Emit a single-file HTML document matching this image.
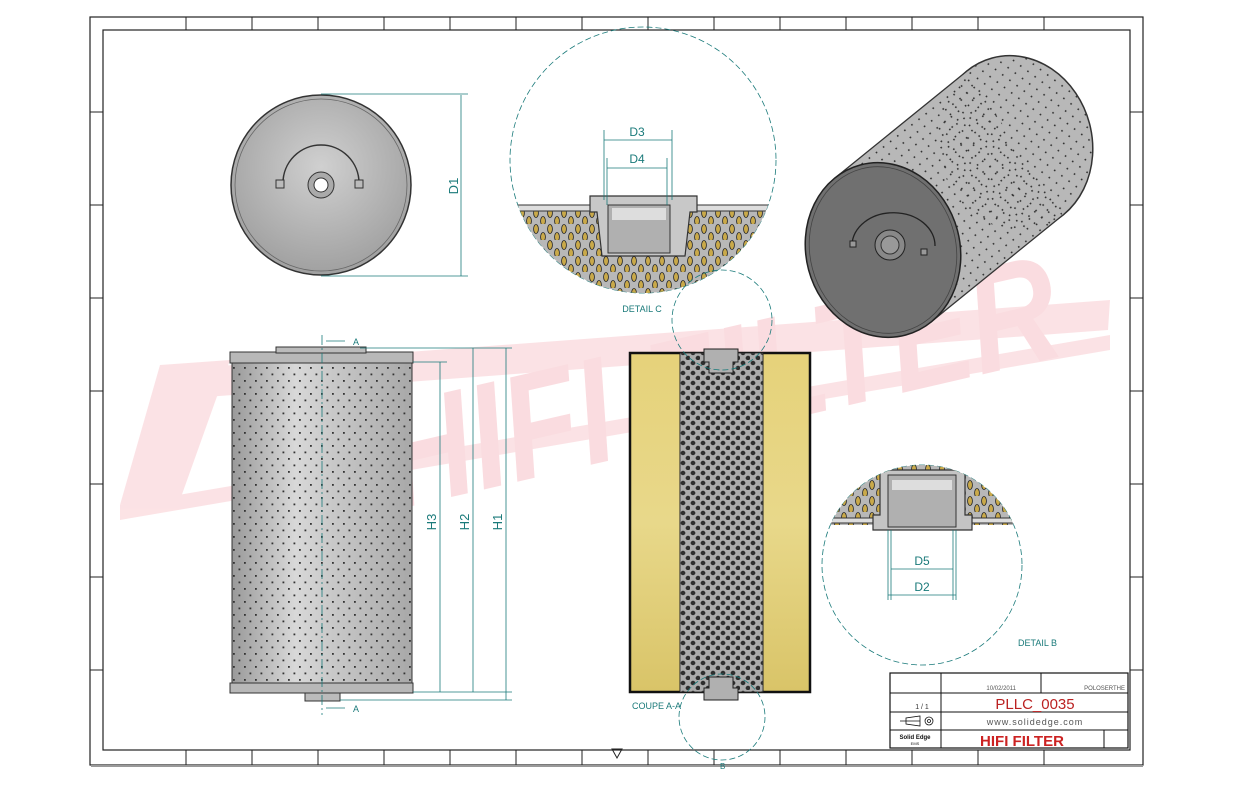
<!DOCTYPE html>
<html><head><meta charset="utf-8"><style>
html,body{margin:0;padding:0;background:#fff;}
svg{display:block;font-family:"Liberation Sans",sans-serif;}
</style></head><body>
<svg width="1233" height="785" viewBox="0 0 1233 785" xmlns="http://www.w3.org/2000/svg">
<defs>
<pattern id="dots" width="11" height="13" patternUnits="userSpaceOnUse">
<rect x="2" y="3" width="1.8" height="1.8" fill="#333"/><rect x="7.5" y="9.5" width="1.8" height="1.8" fill="#333"/>
</pattern>
<pattern id="dots2" width="9" height="9" patternUnits="userSpaceOnUse" patternTransform="rotate(-38)">
<rect x="2" y="2" width="1.6" height="1.6" fill="#333"/>
</pattern>
<pattern id="perf" width="10" height="10" patternUnits="userSpaceOnUse">
<rect width="10" height="10" fill="#a0a0a0"/>
<ellipse cx="3" cy="3" rx="2.4" ry="2.2" fill="#111"/><ellipse cx="8" cy="8" rx="2.4" ry="2.2" fill="#111"/>
</pattern>
<pattern id="hatch" width="14" height="16" patternUnits="userSpaceOnUse">
<rect width="14" height="16" fill="#b8b8b8"/>
<ellipse cx="4" cy="5" rx="2.4" ry="4.5" fill="#c9a94a" stroke="#222" stroke-width="0.8"/>
<ellipse cx="11" cy="13" rx="2.4" ry="4.5" fill="#c9a94a" stroke="#222" stroke-width="0.8"/>
</pattern>
<linearGradient id="gcyl" x1="0" x2="1"><stop offset="0" stop-color="#9a9a9a"/><stop offset=".35" stop-color="#d8d8d8"/><stop offset="1" stop-color="#a8a8a8"/></linearGradient>
<linearGradient id="gyel" x1="0" y1="0" x2="0" y2="1"><stop offset="0" stop-color="#e6d27a"/><stop offset=".5" stop-color="#e8d88a"/><stop offset="1" stop-color="#d9c468"/></linearGradient>
<radialGradient id="gdisk" cx=".5" cy=".4" r=".6"><stop offset="0" stop-color="#d0d0d0"/><stop offset="1" stop-color="#a0a0a0"/></radialGradient>
<clipPath id="cC"><circle cx="643" cy="160" r="133"/></clipPath>
<clipPath id="cB"><circle cx="922" cy="565" r="100"/></clipPath>
</defs>

<!-- borders -->
<rect x="90" y="17" width="1053" height="748" fill="none" stroke="#222" stroke-width="1.2"/>
<rect x="103" y="30" width="1027" height="720" fill="none" stroke="#222" stroke-width="1.2"/>
<g stroke="#222" stroke-width="1">
<line x1="186" y1="17" x2="186" y2="30"/><line x1="252" y1="17" x2="252" y2="30"/><line x1="318" y1="17" x2="318" y2="30"/><line x1="384" y1="17" x2="384" y2="30"/><line x1="450" y1="17" x2="450" y2="30"/><line x1="516" y1="17" x2="516" y2="30"/><line x1="582" y1="17" x2="582" y2="30"/><line x1="648" y1="17" x2="648" y2="30"/><line x1="714" y1="17" x2="714" y2="30"/><line x1="780" y1="17" x2="780" y2="30"/><line x1="846" y1="17" x2="846" y2="30"/><line x1="912" y1="17" x2="912" y2="30"/><line x1="978" y1="17" x2="978" y2="30"/><line x1="1044" y1="17" x2="1044" y2="30"/>
<line x1="186" y1="750" x2="186" y2="765"/><line x1="252" y1="750" x2="252" y2="765"/><line x1="318" y1="750" x2="318" y2="765"/><line x1="384" y1="750" x2="384" y2="765"/><line x1="450" y1="750" x2="450" y2="765"/><line x1="516" y1="750" x2="516" y2="765"/><line x1="582" y1="750" x2="582" y2="765"/><line x1="648" y1="750" x2="648" y2="765"/><line x1="714" y1="750" x2="714" y2="765"/><line x1="780" y1="750" x2="780" y2="765"/><line x1="846" y1="750" x2="846" y2="765"/><line x1="912" y1="750" x2="912" y2="765"/><line x1="978" y1="750" x2="978" y2="765"/><line x1="1044" y1="750" x2="1044" y2="765"/>
<line x1="90" y1="112" x2="103" y2="112"/><line x1="90" y1="205" x2="103" y2="205"/><line x1="90" y1="298" x2="103" y2="298"/><line x1="90" y1="391" x2="103" y2="391"/><line x1="90" y1="484" x2="103" y2="484"/><line x1="90" y1="577" x2="103" y2="577"/><line x1="90" y1="670" x2="103" y2="670"/>
<line x1="1130" y1="112" x2="1143" y2="112"/><line x1="1130" y1="205" x2="1143" y2="205"/><line x1="1130" y1="298" x2="1143" y2="298"/><line x1="1130" y1="391" x2="1143" y2="391"/><line x1="1130" y1="484" x2="1143" y2="484"/><line x1="1130" y1="577" x2="1143" y2="577"/><line x1="1130" y1="670" x2="1143" y2="670"/>
</g>
<line x1="91" y1="766" x2="1143" y2="766" stroke="#999" stroke-width="2"/>
<path d="M612 749 L622 749 L617 758 Z" fill="none" stroke="#222"/>

<!-- watermark -->
<g opacity="0.4">
<path d="M165 370 L1110 300 L1108 330 L165 400 Z" fill="#f7b9bf"/>
<path d="M120 505 L1110 335 L1110 350 L120 520 Z" fill="#f7b9bf"/>
<path d="M160 365 L230 360 L180 500 L120 505 Z" fill="#f7b9bf"/>
<text x="395" y="510" transform="rotate(-13 395 510)" font-size="150" font-weight="bold" font-style="italic" fill="#f5aab2" textLength="690" lengthAdjust="spacingAndGlyphs">HIFI FILTER</text>
</g>

<!-- top view disk -->
<circle cx="321" cy="185" r="90" fill="url(#gdisk)" stroke="#333" stroke-width="1.5"/>
<circle cx="321" cy="185" r="86" fill="none" stroke="#666" stroke-width="0.8"/>
<path d="M283 183 A38 38 0 0 1 359 183" fill="none" stroke="#333" stroke-width="1.5"/>
<rect x="276" y="180" width="8" height="8" fill="#bbb" stroke="#333"/><rect x="355" y="180" width="8" height="8" fill="#bbb" stroke="#333"/>
<circle cx="321" cy="185" r="13" fill="#aaa" stroke="#333"/><circle cx="321" cy="185" r="7" fill="#fff" stroke="#333"/>
<g stroke="#1a7a7a" stroke-width="0.8" fill="#1a7a7a">
<line x1="321" y1="94" x2="468" y2="94"/><line x1="321" y1="276" x2="468" y2="276"/>
<line x1="461" y1="95" x2="461" y2="276"/>
</g>
<text x="458" y="186" transform="rotate(-90 458 186)" font-size="13" fill="#1a7a7a" text-anchor="middle">D1</text>

<!-- detail C -->
<circle cx="643" cy="160" r="133" fill="none" stroke="#1a7a7a" stroke-width="0.8" stroke-dasharray="6,3"/>
<g clip-path="url(#cC)">
<rect x="500" y="210" width="290" height="90" fill="url(#hatch)"/>
<rect x="500" y="205" width="290" height="6" fill="#ddd" stroke="#333"/>
<path d="M590 196 L697 196 L697 212 L690 212 L685 256 L602 256 L597 212 L590 212 Z" fill="#c8c8c8" stroke="#333" stroke-width="1.2"/>
<rect x="608" y="205" width="62" height="48" fill="#b0b0b0" stroke="#333"/>
<rect x="612" y="208" width="54" height="12" fill="#ddd"/>
</g>
<g stroke="#1a7a7a" stroke-width="0.8">
<line x1="604" y1="130" x2="604" y2="200"/><line x1="672" y1="130" x2="672" y2="200"/><line x1="604" y1="140" x2="672" y2="140"/>
<line x1="607" y1="158" x2="607" y2="205"/><line x1="667" y1="158" x2="667" y2="205"/><line x1="607" y1="168" x2="667" y2="168"/>
</g>
<text x="637" y="136" font-size="12" fill="#1a7a7a" text-anchor="middle">D3</text>
<text x="637" y="163" font-size="12" fill="#1a7a7a" text-anchor="middle">D4</text>
<text x="642" y="312" font-size="9" fill="#1a7a7a" text-anchor="middle">DETAIL C</text>

<!-- iso cylinder -->
<ellipse cx="1015" cy="143" rx="77" ry="88" transform="rotate(-15 1015 143)" fill="#b8b8b8" stroke="#333" stroke-width="1.5"/>
<path d="M835 178 L967 71 L1063 215 L931 322 Z" fill="#b8b8b8"/>
<ellipse cx="1015" cy="143" rx="77" ry="88" transform="rotate(-15 1015 143)" fill="url(#dots2)"/>
<path d="M835 178 L967 71 L1063 215 L931 322 Z" fill="url(#dots2)"/>
<line x1="835" y1="178" x2="967" y2="71" stroke="#333" stroke-width="1.3"/>
<line x1="931" y1="322" x2="1063" y2="215" stroke="#333" stroke-width="1.3"/>
<ellipse cx="883" cy="250" rx="77" ry="88" transform="rotate(-15 883 250)" fill="#707070" stroke="#222" stroke-width="1.5"/>
<ellipse cx="883" cy="250" rx="73" ry="84" transform="rotate(-15 883 250)" fill="none" stroke="#444" stroke-width="0.8"/>
<path d="M852 245 A38 30 0 0 1 935 246" fill="none" stroke="#222" stroke-width="1.3"/>
<rect x="850" y="241" width="6" height="6" fill="#999" stroke="#222"/><rect x="921" y="249" width="6" height="6" fill="#999" stroke="#222"/>
<circle cx="890" cy="245" r="15" fill="#888" stroke="#222"/><circle cx="890" cy="245" r="9" fill="#999" stroke="#333"/>

<!-- front view -->
<rect x="232" y="360" width="180" height="326" fill="url(#gcyl)" stroke="#333"/>
<rect x="232" y="360" width="180" height="326" fill="url(#dots)"/>
<rect x="230" y="352" width="183" height="11" fill="#b8b8b8" stroke="#333"/>
<rect x="230" y="683" width="183" height="10" fill="#b8b8b8" stroke="#333"/>
<rect x="276" y="347" width="90" height="6" fill="#bbb" stroke="#333"/>
<rect x="305" y="693" width="35" height="8" fill="#bbb" stroke="#333"/>
<g stroke="#1a7a7a" stroke-width="0.8" fill="none">
<line x1="322" y1="335" x2="322" y2="715" stroke-dasharray="10,3,2,3"/>
<line x1="326" y1="341" x2="345" y2="341"/><line x1="326" y1="708" x2="345" y2="708"/>
<line x1="413" y1="362" x2="447" y2="362"/><line x1="413" y1="692" x2="512" y2="692"/>
<line x1="360" y1="348" x2="512" y2="348"/><line x1="340" y1="700" x2="512" y2="700"/>
<line x1="440" y1="362" x2="440" y2="692"/><line x1="473" y1="348" x2="473" y2="692"/><line x1="506" y1="348" x2="506" y2="700"/>
</g>
<text x="353" y="345" font-size="9" fill="#1a7a7a">A</text><text x="353" y="712" font-size="9" fill="#1a7a7a">A</text>
<text x="440" y="522" transform="rotate(-90 440 522)" font-size="13" fill="#1a7a7a" text-anchor="middle" dy="-4">H3</text>
<text x="473" y="522" transform="rotate(-90 473 522)" font-size="13" fill="#1a7a7a" text-anchor="middle" dy="-4">H2</text>
<text x="506" y="522" transform="rotate(-90 506 522)" font-size="13" fill="#1a7a7a" text-anchor="middle" dy="-4">H1</text>

<!-- section view -->
<rect x="630" y="353" width="180" height="339" fill="url(#gyel)" stroke="#111" stroke-width="2.5"/>
<rect x="680" y="353" width="83" height="339" fill="url(#perf)" stroke="#222"/>
<rect x="680" y="353" width="83" height="339" fill="#fff" opacity="0.12"/>
<path d="M704 349 L738 349 L738 362 L733 362 L733 373 L709 373 L709 362 L704 362 Z" fill="#b0b0b0" stroke="#222"/>
<path d="M704 700 L738 700 L738 688 L733 688 L733 677 L709 677 L709 688 L704 688 Z" fill="#b0b0b0" stroke="#222"/>
<circle cx="722" cy="320" r="50" fill="none" stroke="#1a7a7a" stroke-width="0.8" stroke-dasharray="6,3"/>
<circle cx="722" cy="717" r="43" fill="none" stroke="#1a7a7a" stroke-width="0.8" stroke-dasharray="6,3"/>
<text x="632" y="709" font-size="9" fill="#1a7a7a">COUPE A-A</text>
<text x="720" y="769" font-size="8" fill="#1a7a7a">B</text>

<!-- detail B -->
<circle cx="922" cy="565" r="100" fill="none" stroke="#1a7a7a" stroke-width="0.8" stroke-dasharray="6,3"/>
<g clip-path="url(#cB)">
<rect x="820" y="455" width="210" height="70" fill="url(#hatch)"/>
<rect x="820" y="518" width="210" height="5" fill="#ddd" stroke="#333"/>
<path d="M880 470 L965 470 L965 515 L972 515 L972 530 L873 530 L873 515 L880 515 Z" fill="#c4c4c4" stroke="#333" stroke-width="1.2"/>
<rect x="888" y="475" width="68" height="52" fill="#b0b0b0" stroke="#333"/>
<rect x="892" y="480" width="60" height="10" fill="#ddd"/>
</g>
<g stroke="#1a7a7a" stroke-width="0.8">
<line x1="891" y1="530" x2="891" y2="600"/><line x1="953" y1="530" x2="953" y2="600"/><line x1="891" y1="569" x2="953" y2="569"/>
<line x1="888" y1="595" x2="956" y2="595"/><line x1="888" y1="530" x2="888" y2="600"/><line x1="956" y1="530" x2="956" y2="600"/>
</g>
<text x="922" y="565" font-size="12" fill="#1a7a7a" text-anchor="middle">D5</text>
<text x="922" y="591" font-size="12" fill="#1a7a7a" text-anchor="middle">D2</text>
<text x="1018" y="646" font-size="9" fill="#1a7a7a">DETAIL B</text>

<!-- title block -->
<rect x="890" y="673" width="238" height="75" fill="#fff" stroke="#111" stroke-width="1.2"/>
<g stroke="#111" stroke-width="1">
<line x1="890" y1="693" x2="1128" y2="693"/><line x1="890" y1="712" x2="1128" y2="712"/><line x1="890" y1="730" x2="1128" y2="730"/>
<line x1="941" y1="673" x2="941" y2="748"/><line x1="1041" y1="673" x2="1041" y2="693"/><line x1="1104" y1="730" x2="1104" y2="748"/>
</g>
<text x="1016" y="690" font-size="6" fill="#555" text-anchor="end">10/02/2011</text>
<text x="1125" y="690" font-size="6" fill="#555" text-anchor="end">POLOSERTHE</text>
<text x="922" y="709" font-size="7" fill="#333" text-anchor="middle">1 / 1</text>
<text x="1035" y="709" font-size="15" fill="#b22" text-anchor="middle">PLLC_0035</text>
<text x="1035" y="725" font-size="9" fill="#555" text-anchor="middle" letter-spacing="1">www.solidedge.com</text>
<text x="1022" y="746" font-size="15" font-weight="bold" fill="#c22" text-anchor="middle">HIFI FILTER</text>
<text x="915" y="739" font-size="6" font-weight="bold" fill="#111" text-anchor="middle">Solid Edge</text>
<text x="915" y="745" font-size="4" fill="#111" text-anchor="middle">EMS</text>
<g stroke="#111" fill="none" stroke-width="0.8"><path d="M900 721 L920 721 L920 716 L906 718 L906 724 L920 726 L920 721"/><circle cx="929" cy="721" r="4"/><circle cx="929" cy="721" r="1.5"/></g>
</svg>
</body></html>
